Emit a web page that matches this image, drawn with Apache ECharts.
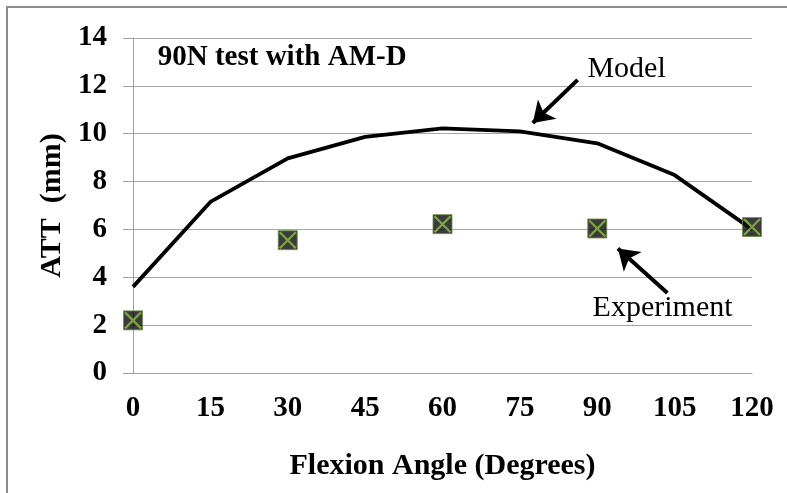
<!DOCTYPE html>
<html>
<head>
<meta charset="utf-8">
<script src="https://cdn.jsdelivr.net/npm/echarts@6/dist/echarts.min.js"></script>
<style>
html,body{margin:0;padding:0;background:#fff;}
#c{width:787px;height:493px;}
</style>
</head>
<body>
<div id="c"></div>
<script>
// Data
var modelAngles = [0, 15, 30, 45, 60, 75, 90, 105, 120];
var modelATT = [3.6, 7.15, 8.97, 9.87, 10.22, 10.1, 9.6, 8.27, 6.0];
var expAngles = [0, 30, 60, 90, 120];
var expATT = [2.2, 5.55, 6.22, 6.04, 6.1];
var xTicks = [0, 15, 30, 45, 60, 75, 90, 105, 120];
var yTicks = [0, 2, 4, 6, 8, 10, 12, 14];
var titleText = '90N test with AM-D';
var xName = 'Flexion Angle (Degrees)';
var yName = 'ATT  (mm)';
// annotation anchors in data units [angle, ATT]
var modelArrowFrom = [86.2, 12.25];
var modelArrowTo = [77.5, 10.45];
var expArrowFrom = [103.6, 3.34];
var expArrowTo = [94.0, 5.2];
var modelLabelAt = [88.1, 12.7];
var expLabelAt = [89.1, 2.72];
var titleAt = [4.8, 13.2];

var modelData = modelAngles.map(function (a, i) { return [a, modelATT[i]]; });
var expData = expAngles.map(function (a, i) { return [a, expATT[i]]; });

var chart = echarts.init(document.getElementById('c'), null, {renderer: 'canvas'});
var serif = '"Liberation Serif", "Times New Roman", serif';
var option = {
  animation: false,
  backgroundColor: '#ffffff',
  grid: {left: 133, right: 35, top: 38, bottom: 120, containLabel: false},
  xAxis: {
    type: 'value', min: xTicks[0], max: xTicks[xTicks.length - 1], interval: 15,
    name: xName, nameLocation: 'middle', nameGap: 78,
    nameTextStyle: {fontFamily: serif, fontWeight: 'bold', fontSize: 30, color: '#000'},
    axisLine: {show: true, lineStyle: {color: '#a0a0a0', width: 1}},
    axisTick: {show: false},
    splitLine: {show: false},
    axisLabel: {fontFamily: serif, fontWeight: 'bold', fontSize: 29, color: '#000', margin: 21}
  },
  yAxis: {
    type: 'value', min: yTicks[0], max: yTicks[yTicks.length - 1], interval: 2,
    name: yName, nameLocation: 'middle', nameGap: 61, nameRotate: 90,
    nameTextStyle: {fontFamily: serif, fontWeight: 'bold', fontSize: 30, color: '#000'},
    axisLine: {show: true, lineStyle: {color: '#a0a0a0', width: 1}},
    axisTick: {show: true, inside: false, length: 10, lineStyle: {color: '#a0a0a0', width: 1}},
    splitLine: {show: true, lineStyle: {color: '#a6a6a6', width: 1}},
    axisLabel: {fontFamily: serif, fontWeight: 'bold', fontSize: 29, color: '#000', margin: 26}
  },
  series: [
    {
      type: 'line', data: modelData, symbol: 'none', smooth: false,
      lineStyle: {color: '#000', width: 3.8},
      z: 3,
      markLine: {
        silent: true, animation: false,
        symbol: ['none', 'arrow'], symbolSize: [20, 20],
        lineStyle: {color: '#000', width: 4, type: 'solid'},
        label: {show: false},
        data: [
          [{coord: modelArrowFrom}, {coord: modelArrowTo}],
          [{coord: expArrowFrom}, {coord: expArrowTo}]
        ]
      }
    },
    {
      type: 'scatter', data: expData, symbol: 'rect', symbolSize: 19,
      itemStyle: {color: '#0a0a0a', borderColor: '#6f8f45', borderWidth: 1},
      z: 4
    },
    {
      type: 'scatter', data: expData,
      symbol: 'path://M0,0L10,10M10,0L0,10', symbolSize: 16,
      itemStyle: {color: 'none', borderColor: '#8fc23f', borderWidth: 2.2},
      z: 5
    }
  ]
};
chart.setOption(option);

function px(p) { return chart.convertToPixel({gridIndex: 0}, p); }
var tp = px(titleAt), mp = px(modelLabelAt), ep = px(expLabelAt);
chart.setOption({
  graphic: [
    {type: 'rect', shape: {x: 7, y: 7, width: 800, height: 500}, style: {fill: 'none', stroke: '#8c8c8c', lineWidth: 2}, z: 0, silent: true},
    {type: 'text', x: tp[0], y: tp[1], style: {text: titleText, font: 'bold 29px ' + serif, fill: '#000', textAlign: 'left', textVerticalAlign: 'middle'}, z: 10},
    {type: 'text', x: mp[0], y: mp[1], style: {text: 'Model', font: '30px ' + serif, fill: '#000', textAlign: 'left', textVerticalAlign: 'middle'}, z: 10},
    {type: 'text', x: ep[0], y: ep[1], style: {text: 'Experiment', font: '30px ' + serif, fill: '#000', textAlign: 'left', textVerticalAlign: 'middle'}, z: 10}
  ]
});
</script>
</body>
</html>
